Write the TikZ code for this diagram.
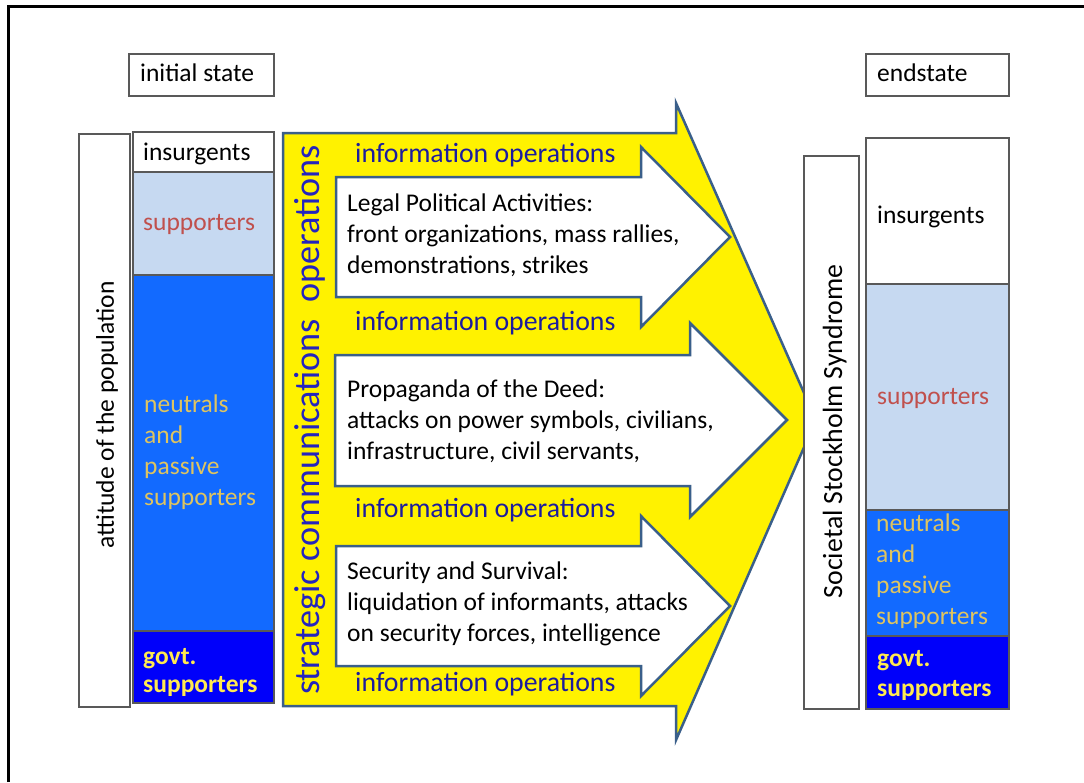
\documentclass[tikz,border=0pt]{standalone}
\usepackage{fontspec}
\setmainfont{Carlito}
\definecolor{boxgray}{RGB}{89,89,89}
\definecolor{arrowedge}{RGB}{58,95,138}
\definecolor{supfill}{RGB}{198,217,241}
\definecolor{neutfill}{RGB}{18,106,255}
\definecolor{govtfill}{RGB}{0,0,250}
\definecolor{suptext}{RGB}{192,80,77}
\definecolor{neuttext}{RGB}{222,196,96}
\definecolor{govttext}{RGB}{255,234,80}
\definecolor{infoblue}{RGB}{28,28,158}
\definecolor{stratblue}{RGB}{36,36,190}
\begin{document}
\begin{tikzpicture}[x=1pt,y=-1pt,
    box/.style={draw=boxgray,line width=1.3pt},
    arrowshape/.style={draw=arrowedge,line width=2.5pt,line join=miter},
    txt/.style={inner sep=0pt,align=left,font=\fontsize{25.5}{30.8}\selectfont},
    infoops/.style={inner sep=0pt,anchor=base west,text=infoblue,font=\fontsize{27.8}{33}\selectfont}]
    \useasboundingbox[fill=white] (0,0) rectangle (1084,782);
    %% Frame
    \draw[line width=3pt] (8.5,782) -- (8.5,6) -- (1084,6);
    %% State labels
    \draw[box] (129,54) rectangle (274,96);
    \node[txt,anchor=base west] (initial) at (140,81) {initial state};
    \draw[box] (866,54) rectangle (1009,96);
    \node[txt,anchor=base west] (endstate) at (877,81) {endstate};
    %% Initial population
    \draw[box,fill=white] (79,134) rectangle (130,707);
    \node[txt,rotate=90] (attitude) at (107,415) {attitude of the population};
    \draw[box,fill=white] (133,132) rectangle (274,172);
    \draw[box,fill=supfill] (133,172) rectangle (274,275);
    \draw[box,fill=neutfill] (133,275) rectangle (274,631);
    \draw[box,fill=govtfill] (133,631) rectangle (274,703);
    \node[txt,anchor=base west] (insL) at (143,160) {insurgents};
    \node[txt,anchor=base west,text=suptext] (supL) at (143,230) {supporters};
    \node[txt,anchor=north west,text=neuttext] (neutL) at (144,395) {neutrals\\and\\passive\\supporters};
    \node[txt,anchor=north west,text=govttext,font=\fontsize{25.5}{28}\selectfont\bfseries] (govL) at (143,648) {govt.\\supporters};
    %% Strategic communications arrow
    \draw[arrowshape,fill=yellow] (283,133) -- (676,133) -- (676,103) -- (816,420) -- (676,740) -- (676,706) -- (283,706) -- cycle;
    \node[inner sep=0pt,rotate=90,text=stratblue,font=\fontsize{36.2}{40}\selectfont] (strategic) at (310,420) {strategic communications~ operations};
    %% Inner arrows
    \draw[arrowshape,fill=white] (336,177) -- (641,177) -- (641,147) -- (730,237) -- (641,327) -- (641,297) -- (336,297) -- cycle;
    \draw[arrowshape,fill=white] (335,355) -- (690,355) -- (690,323) -- (787,420) -- (690,517) -- (690,486) -- (335,486) -- cycle;
    \draw[arrowshape,fill=white] (336,546) -- (641,546) -- (641,516) -- (730,606) -- (641,696) -- (641,666) -- (336,666) -- cycle;
    \node[txt,anchor=north west] (legal) at (347,194) {Legal Political Activities:\\front organizations, mass rallies,\\demonstrations, strikes};
    \node[txt,anchor=north west] (deed) at (347,379.5) {Propaganda of the Deed:\\attacks on power symbols, civilians,\\infrastructure, civil servants,};
    \node[txt,anchor=north west] (survival) at (347,562) {Security and Survival:\\liquidation of informants, attacks\\on security forces, intelligence};
    %% Information operations
    \node[infoops] (info1) at (355,162) {information operations};
    \node[infoops] (info2) at (355,330) {information operations};
    \node[infoops] (info3) at (355,517) {information operations};
    \node[infoops] (info4) at (355,691) {information operations};
    %% End population
    \draw[box,fill=white] (804,156) rectangle (859,709);
    \node[inner sep=0pt,rotate=90,font=\fontsize{27.8}{33}\selectfont] (societal) at (834.7,431.5) {Societal Stockholm Syndrome};
    \draw[box,fill=white] (866,138) rectangle (1009,284);
    \draw[box,fill=supfill] (866,284) rectangle (1009,510);
    \draw[box,fill=neutfill] (866,510) rectangle (1009,636);
    \draw[box,fill=govtfill] (866,636) rectangle (1009,709);
    \node[txt,anchor=base west] (insR) at (877,223) {insurgents};
    \node[txt,anchor=base west,text=suptext] (supR) at (877,404) {supporters};
    \node[txt,anchor=north west,text=neuttext] (neutR) at (876,514) {neutrals\\and\\passive\\supporters};
    \node[txt,anchor=north west,text=govttext,font=\fontsize{25.5}{30}\selectfont\bfseries] (govR) at (877,650) {govt.\\supporters};
\end{tikzpicture}
\end{document}
